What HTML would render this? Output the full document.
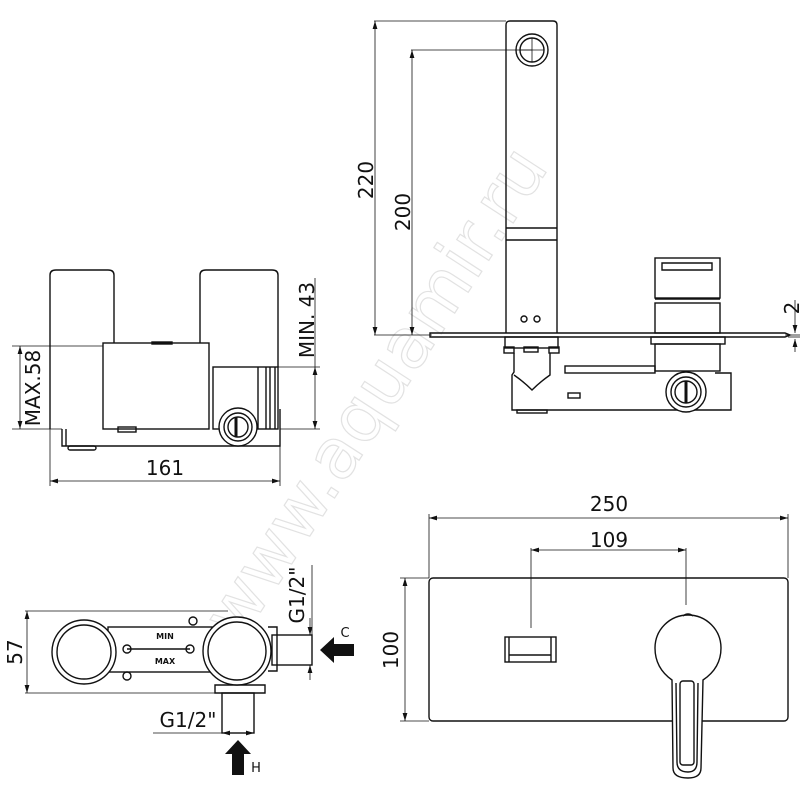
<!DOCTYPE html>
<html><head><meta charset="utf-8"><style>
html,body{margin:0;padding:0;background:#fff}
svg{display:block}
text{font-family:"DejaVu Sans","Liberation Sans",sans-serif;fill:#111}
</style></head><body>
<svg width="800" height="800" viewBox="0 0 800 800" xmlns="http://www.w3.org/2000/svg">
<defs>
<marker id="a" viewBox="0 0 10 6" refX="10" refY="3" markerWidth="8" markerHeight="5" orient="auto-start-reverse" markerUnits="userSpaceOnUse"><path d="M0,0L10,3L0,6z" fill="#111"/></marker>
</defs>
<!-- watermark -->
<text x="0" y="0" transform="translate(395,405) rotate(-57)" font-size="70" text-anchor="middle" style="fill:none;stroke:#e2e2e2;stroke-width:1.2">www.aquamir.ru</text>

<g fill="none" stroke="#111" stroke-width="1.4">
<!-- TOP LEFT VIEW -->
<path d="M50,429V275Q50,270 56,270H108Q114,270 114,275V343"/>
<path d="M200,343V275Q200,270 206,270H272Q278,270 278,275V367"/>
<rect x="103" y="343" width="106" height="86"/>
<rect x="152" y="342" width="20" height="2" fill="#111"/>
<rect x="213" y="367" width="65" height="62"/>
<line x1="258" y1="367" x2="258" y2="429"/><line x1="266" y1="367" x2="266" y2="429"/><line x1="270" y1="367" x2="270" y2="429"/><line x1="275" y1="367" x2="275" y2="429"/>
<path d="M62,429V446H280V409"/>
<line x1="66" y1="446" x2="66" y2="429"/>
<rect x="68" y="446" width="28" height="4" rx="2"/>
<rect x="118" y="427" width="18" height="5"/>
<circle cx="238" cy="427" r="19" fill="#fff"/><circle cx="238" cy="427" r="14"/><circle cx="238" cy="427" r="10"/>
<line x1="236" y1="417" x2="236" y2="437" stroke-width="3"/>
<line x1="12" y1="346" x2="103" y2="346" stroke-width="0.8"/>
<line x1="12" y1="429" x2="62" y2="429" stroke-width="0.8"/>
<line x1="20" y1="346" x2="20" y2="429" stroke-width="0.8" marker-start="url(#a)" marker-end="url(#a)"/>
<line x1="278" y1="367" x2="320" y2="367" stroke-width="0.8"/>
<line x1="280" y1="429" x2="320" y2="429" stroke-width="0.8"/>
<line x1="315" y1="367" x2="315" y2="429" stroke-width="0.8" marker-start="url(#a)" marker-end="url(#a)"/>
<line x1="315" y1="278" x2="315" y2="367" stroke-width="0.8"/>
<line x1="50" y1="429" x2="50" y2="486" stroke-width="0.8"/>
<line x1="280" y1="446" x2="280" y2="486" stroke-width="0.8"/>
<line x1="50" y1="481" x2="280" y2="481" stroke-width="0.8" marker-start="url(#a)" marker-end="url(#a)"/>

<!-- TOP RIGHT VIEW -->
<path d="M506,333V25Q506,21 510,21H553Q557,21 557,25V333"/>
<line x1="506" y1="228" x2="557" y2="228"/><line x1="506" y1="240" x2="557" y2="240"/>
<circle cx="532" cy="50" r="16"/><circle cx="532" cy="50" r="12"/>
<line x1="520" y1="50" x2="544" y2="50" stroke-width="0.8"/><line x1="532" y1="38" x2="532" y2="62" stroke-width="0.8"/>
<circle cx="524" cy="319" r="3"/><circle cx="537" cy="319" r="3"/>
<line x1="374" y1="21" x2="506" y2="21" stroke-width="0.8"/>
<line x1="411" y1="50" x2="532" y2="50" stroke-width="0.8"/>
<line x1="374" y1="335" x2="432" y2="335" stroke-width="0.8"/>
<line x1="375" y1="21" x2="375" y2="335" stroke-width="0.8" marker-start="url(#a)" marker-end="url(#a)"/>
<line x1="412" y1="50" x2="412" y2="335" stroke-width="0.8" marker-start="url(#a)" marker-end="url(#a)"/>
<path d="M430,333H785L790,335L785,337H430Z"/>
<rect x="505" y="337" width="53" height="11"/>
<rect x="504" y="347" width="10" height="6"/><rect x="549" y="347" width="10" height="6"/><rect x="524" y="347" width="14" height="5"/>
<path d="M514,353V372L512,375V410H731V373H715"/>
<path d="M514,375Q524,382 532,390Q540,382 550,375V353"/>
<rect x="565" y="366" width="90" height="7"/>
<rect x="568" y="393" width="12" height="5"/>
<rect x="517" y="410" width="30" height="3"/>
<rect x="655" y="258" width="65" height="40"/>
<path d="M662,263H712V270H662Z"/>
<line x1="655" y1="299" x2="720" y2="299"/>
<rect x="655" y="303" width="65" height="30"/>
<rect x="651" y="337" width="74" height="7"/>
<rect x="655" y="344" width="65" height="27"/>
<circle cx="686" cy="392" r="20" fill="#fff"/><circle cx="686" cy="392" r="15"/><circle cx="686" cy="392" r="11"/>
<line x1="686" y1="381" x2="686" y2="403" stroke-width="3"/>
<line x1="785" y1="335" x2="800" y2="335" stroke-width="0.8"/>
<line x1="788" y1="337" x2="800" y2="337" stroke-width="0.8"/>
<line x1="795" y1="300" x2="795" y2="333" stroke-width="0.8" marker-end="url(#a)"/>
<line x1="795" y1="352" x2="795" y2="339" stroke-width="0.8" marker-end="url(#a)"/>

<!-- BOTTOM LEFT VIEW -->
<line x1="25" y1="611" x2="228" y2="611" stroke-width="0.8"/>
<line x1="25" y1="693" x2="222" y2="693" stroke-width="0.8"/>
<line x1="27" y1="611" x2="27" y2="693" stroke-width="0.8" marker-start="url(#a)" marker-end="url(#a)"/>
<rect x="108" y="627" width="104" height="45"/>
<circle cx="84" cy="652" r="32" fill="#fff"/><circle cx="84" cy="652" r="27"/>
<circle cx="193" cy="621" r="4"/><circle cx="127" cy="676" r="4"/>
<line x1="127" y1="649" x2="190" y2="649"/>
<circle cx="127" cy="649" r="4"/><circle cx="190" cy="649" r="4"/>
<path d="M268,627H277V671H268"/>
<rect x="272" y="635" width="40" height="30"/>
<path d="M215,685H265V693H215Z"/>
<circle cx="237" cy="651" r="34" fill="#fff"/><circle cx="237" cy="651" r="29"/>
<rect x="222" y="693" width="32" height="40"/>
<line x1="312" y1="565" x2="312" y2="665" stroke-width="0.8"/>
<line x1="310" y1="618" x2="310" y2="635" stroke-width="0.8" marker-end="url(#a)"/>
<line x1="310" y1="680" x2="310" y2="665" stroke-width="0.8" marker-end="url(#a)"/>
<line x1="153" y1="733" x2="254" y2="733" stroke-width="0.8"/>
<line x1="222" y1="733" x2="254" y2="733" stroke-width="0.8" marker-start="url(#a)" marker-end="url(#a)"/>

<!-- BOTTOM RIGHT VIEW -->
<rect x="429" y="578" width="359" height="143" rx="4"/>
<line x1="429" y1="514" x2="429" y2="578" stroke-width="0.8"/>
<line x1="788" y1="514" x2="788" y2="578" stroke-width="0.8"/>
<line x1="429" y1="518" x2="788" y2="518" stroke-width="0.8" marker-start="url(#a)" marker-end="url(#a)"/>
<line x1="531" y1="548" x2="531" y2="628" stroke-width="0.8"/>
<line x1="686" y1="548" x2="686" y2="605" stroke-width="0.8"/>
<line x1="531" y1="550" x2="686" y2="550" stroke-width="0.8" marker-start="url(#a)" marker-end="url(#a)"/>
<line x1="400" y1="578" x2="429" y2="578" stroke-width="0.8"/>
<line x1="400" y1="721" x2="429" y2="721" stroke-width="0.8"/>
<line x1="405" y1="578" x2="405" y2="721" stroke-width="0.8" marker-start="url(#a)" marker-end="url(#a)"/>
<rect x="505" y="637" width="51" height="25"/>
<line x1="509" y1="637" x2="509" y2="662"/><line x1="551" y1="637" x2="551" y2="662"/>
<line x1="509" y1="655" x2="551" y2="655"/>
<path d="M672,680Q655,668 655,648A33,33 0 0 1 721,648Q721,668 703,680L701,768Q701,778 688,778Q673,778 673,768Z" fill="#fff"/>
<path d="M676,683L677,762Q677,772 688,772Q697,772 697,762L698,683"/>
<rect x="680" y="681" width="14" height="84" rx="3"/>
<path d="M683,616Q688,612 693,616"/>
</g>
<!-- arrows -->
<path d="M320,650L334,637V644H354V656H334V663Z" fill="#111"/>
<path d="M238,740L251,754H244V775H232V754H225Z" fill="#111"/>

<!-- text -->
<g font-size="20">
<text transform="translate(40,388) rotate(-90)" text-anchor="middle">MAX.58</text>
<text transform="translate(314,320) rotate(-90)" text-anchor="middle">MIN. 43</text>
<text x="165" y="481" text-anchor="middle" dy="-6">161</text>
<text transform="translate(373,180) rotate(-90)" text-anchor="middle">220</text>
<text transform="translate(410,212) rotate(-90)" text-anchor="middle">200</text>
<text transform="translate(799,308) rotate(-90)" text-anchor="middle">2</text>
<text transform="translate(22,652) rotate(-90)" text-anchor="middle">57</text>
<text transform="translate(304,595) rotate(-90)" text-anchor="middle">G1/2"</text>
<text x="188" y="727" text-anchor="middle">G1/2"</text>
<text x="609" y="511" text-anchor="middle">250</text>
<text x="609" y="547" text-anchor="middle">109</text>
<text transform="translate(398,650) rotate(-90)" text-anchor="middle">100</text>
</g>
<text x="345" y="637" font-size="13" text-anchor="middle">C</text>
<text x="256" y="772" font-size="13" text-anchor="middle">H</text>
<text x="165" y="639" font-size="8" font-weight="bold" text-anchor="middle">MIN</text>
<text x="165" y="664" font-size="8" font-weight="bold" text-anchor="middle">MAX</text>
</svg>
</body></html>
